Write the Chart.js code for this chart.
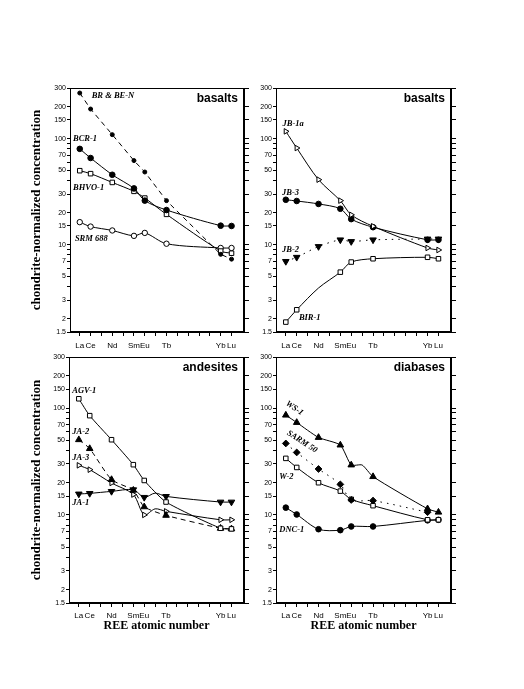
<!DOCTYPE html>
<html><head><meta charset="utf-8">
<script src="https://cdn.jsdelivr.net/npm/chart.js@4.4.1/dist/chart.umd.min.js"></script>
<style>
html,body{margin:0;padding:0;background:#fff;}
body{width:524px;height:689px;position:relative;overflow:hidden;}
canvas{position:absolute;}
</style></head><body>
<canvas id="tl" width="262" height="300" style="left:0px;top:60px;width:262px;height:300px"></canvas>
<canvas id="tr" width="284" height="300" style="left:240px;top:60px;width:284px;height:300px"></canvas>
<canvas id="bl" width="262" height="349" style="left:0px;top:340px;width:262px;height:349px"></canvas>
<canvas id="br" width="284" height="349" style="left:240px;top:340px;width:284px;height:349px"></canvas>
<script>
// ---- categories (REE, atomic number) ----
const elements      = ['La','Ce','Nd','Sm','Eu','Gd','Tb','Yb','Lu'];
const atomicNumbers = [57, 58, 60, 62, 63, 64, 65, 70, 71];
const labeledNumbers = [57, 58, 60, 62, 63, 65, 70, 71];
const xTickValues = [57,58,59,60,61,62,63,64,65,66,67,68,69,70,71];
const yTickValues = [1.5,2,3,4,5,6,7,8,9,10,15,20,30,40,50,60,70,80,90,100,150,200,300];
const yTickLabels = ['1.5','2','3','5','7','10','15','20','30','50','70','100','150','200','300'];

// ---- basalts (left) ----
const brBeN  = [269, 190, 109, 62, 48.4, null, 26, 8.1, 7.3];
const bcr1   = [80, 65.6, 45.6, 33.9, 26, null, 21.2, 15.1, 15.0];
const bhvo1  = [49.8, 46.7, 38.6, 31.8, 27.5, null, 19.3, 8.7, 8.3];
const srm688 = [16.3, 14.8, 13.6, 12.1, 12.9, null, 10.2, 9.3, 9.3];
// ---- basalts (right) ----
const jb1a = [117, 81.5, 41, 26, 19.1, null, 14.9, 9.3, 8.9];
const jb3  = [26.5, 25.8, 24.2, 21.8, 17.4, null, 14.6, 11.1, 11.1];
const jb2  = [6.95, 7.6, 9.6, 11.1, 10.7, null, 11.1, 11.3, 11.3];
const bir1 = [1.86, 2.43, 3.9, 5.5, 6.85, null, 7.36, 7.6, 7.36];
// ---- andesites ----
const agv1 = [122, 84.8, 50.5, 29.5, 21, null, 13.2, 7.5, 7.4];
const ja2  = [50.5, 41.7, 21.4, 17, 11.9, null, 9.9, 7.5, 7.4];
const ja3  = [29.1, 26.5, 19.9, 15.5, 10, 11.4, 10.8, 9.0, 9.0];
const ja1  = [15.7, 15.9, 16.6, 17.2, 14.6, 16, 14.9, 13.2, 13.2];
// ---- diabases ----
const ws1    = [85.7, 73.2, 53, 45, 29.3, 29.3, 22.8, 11.4, 10.6];
const sarm50 = [46.6, 38.4, 26.9, 19.3, 13.8, null, 13.6, 10.6, null];
const w2     = [33.8, 27.8, 20, 16.7, 14, null, 12.2, 9.0, 9.0];
const dnc1   = [11.7, 10.1, 7.35, 7.2, 7.8, null, 7.8, 8.9, 9.0];

// ---- styles ----
const ST = {
  filledCircle: {pointStyle:'circle', r:2.8, bg:'#000'},
  smallDot:     {pointStyle:'circle', r:2, bg:'#000'},
  openCircle:   {pointStyle:'circle', r:2.7, bg:'#fff'},
  openSquare:   {pointStyle:'rect', r:3.2, bg:'#fff'},
  filledUp:     {pointStyle:'triangle', r:3.8, bg:'#000', rot:0},
  filledDown:   {pointStyle:'triangle', r:3.8, bg:'#000', rot:180},
  openRight:    {pointStyle:'triangle', r:3.2, bg:'#fff', rot:90},
  filledDiamond:{pointStyle:'rectRot', r:3.4, bg:'#000'}
};
const DASH = [5,4], DOT = [1.5,5];

// hidden: atomic numbers whose point is drawn without a marker
function series(label, values, st, dash, tension, hidden) {
  const hide = hidden || [64];
  return {
    label,
    data: atomicNumbers.map((x,i)=>({x, y: values[i]})).filter(p=>p.y!==null),
    borderColor:'#000', borderWidth:1, borderDash: dash || [],
    pointStyle: st.pointStyle, pointRotation: st.rot || 0,
    pointRadius: c => (c.raw && hide.includes(c.raw.x)) ? 0 : st.r,
    pointBackgroundColor: st.bg, pointBorderColor:'#000', pointBorderWidth:1,
    tension: (tension === undefined || tension === null) ? 0.3 : tension, spanGaps:true, fill:false
  };
}

const annot = {
  id:'annot',
  afterDatasetsDraw(chart, args, opts) {
    const {ctx, chartArea:a, scales:{x, y}} = chart;
    ctx.save();
    ctx.strokeStyle = '#000'; ctx.lineWidth = 1;
    ctx.strokeRect(Math.round(a.left)+0.5, Math.round(a.top)+0.5, Math.round(a.right-a.left)-1, Math.round(a.bottom-a.top)-1);
    ctx.fillStyle = '#000';
    ctx.font = 'bold 12px "Liberation Sans", Arial, sans-serif';
    ctx.textAlign = 'right'; ctx.textBaseline = 'middle';
    ctx.fillText(opts.title, a.right - 6, a.top + 11);
    ctx.font = 'italic bold 8.5px "Liberation Serif", "Times New Roman", serif';
    for (const l of opts.labels) {
      const px = x.getPixelForValue(l.x), py = y.getPixelForValue(l.y);
      ctx.save();
      ctx.translate(px, py);
      if (l.rot) ctx.rotate(l.rot * Math.PI / 180);
      ctx.textAlign = l.align || 'left';
      ctx.fillText(l.text, 0, 0);
      ctx.restore();
    }
    ctx.restore();
  }
};

function makePanel(id, p) {
  const yAxis = {
    type:'logarithmic', position:'left', min:1.5, max:300,
    afterBuildTicks: s => { s.ticks = yTickValues.map(v=>({value:v})); },
    afterFit: s => { s.width = p.yW; },
    ticks:{autoSkip:false, padding:1, color:'#000', font:{size:7, family:'"Liberation Sans", Arial'},
      callback: v => yTickLabels.includes(String(v)) ? String(v) : ''},
    grid:{drawOnChartArea:false, drawTicks:true, tickLength:3, color:'#000'},
    border:{display:true, color:'#000', width:1},
    title: p.yTitle ? {display:true, text:'chondrite-normalized concentration', color:'#000',
      font:{size:13, weight:'bold', family:'"Liberation Serif", "Times New Roman", serif'},
      padding:{top:29, bottom:0}} : {display:false}
  };
  const y2Axis = {
    type:'logarithmic', position:'right', min:1.5, max:300,
    afterBuildTicks: s => { s.ticks = yTickValues.map(v=>({value:v})); },
    afterFit: s => { s.width = 6; },
    ticks:{display:false, autoSkip:false},
    grid:{drawOnChartArea:false, drawTicks:true, tickLength:5, color:'#000'},
    border:{display:true, color:'#000', width:1}
  };
  const xAxis = {
    type:'linear', position:'bottom', min:56.1, max:72.15,
    afterBuildTicks: s => { s.ticks = xTickValues.map(v=>({value:v})); },
    afterFit: s => { s.height = p.xH; },
    ticks:{autoSkip:false, maxRotation:0, minRotation:0, padding:p.xPad, color:'#000',
      font:{size:8, family:'"Liberation Sans", Arial'},
      callback: v => labeledNumbers.includes(v) ? elements[atomicNumbers.indexOf(v)] : ''},
    grid:{drawOnChartArea:false, drawTicks:true, tickLength:4, color:'#000'},
    border:{display:true, color:'#000', width:1},
    title: p.xTitle ? {display:true, text:'REE atomic number', color:'#000',
      font:{size:12, weight:'bold', family:'"Liberation Serif", "Times New Roman", serif'},
      padding:{top:0, bottom:5}} : {display:false}
  };
  return new Chart(document.getElementById(id), {
    type:'line',
    data:{datasets:p.datasets},
    options:{
      responsive:false, animation:false, devicePixelRatio:1,
      layout:{padding:p.pad},
      scales:{x:xAxis, y:yAxis, y2:y2Axis},
      plugins:{legend:{display:false}, tooltip:{enabled:false}, annot:{title:p.title, labels:p.labels}}
    },
    plugins:[annot]
  });
}

makePanel('tl', {
  yW:70, xH:28, xPad:5, yTitle:true, xTitle:false,
  pad:{left:0, right:12, top:28, bottom:0},
  title:'basalts',
  datasets:[
    series('BR & BE-N', brBeN, ST.smallDot, DASH, 0),
    series('BCR-1', bcr1, ST.filledCircle),
    series('BHVO-1', bhvo1, ST.openSquare),
    series('SRM 688', srm688, ST.openCircle)
  ],
  labels:[
    {text:'BR & BE-N', x:58.1, y:254},
    {text:'BCR-1', x:56.38, y:100},
    {text:'BHVO-1', x:56.38, y:34.4},
    {text:'SRM 688', x:56.55, y:11.4}
  ]
});

makePanel('tr', {
  yW:36, xH:28, xPad:5, yTitle:false, xTitle:false,
  pad:{left:0, right:67, top:28, bottom:0},
  title:'basalts',
  datasets:[
    series('JB-1a', jb1a, ST.openRight),
    series('JB-3', jb3, ST.filledCircle),
    series('JB-2', jb2, ST.filledDown, DOT),
    series('BIR-1', bir1, ST.openSquare, null, 0.3, [60, 64])
  ],
  labels:[
    {text:'JB-1a', x:56.7, y:138},
    {text:'JB-3', x:56.65, y:30.8},
    {text:'JB-2', x:56.65, y:8.9},
    {text:'BIR-1', x:58.2, y:2.04}
  ]
});

makePanel('bl', {
  yW:69, xH:35, xPad:4, yTitle:true, xTitle:true,
  pad:{left:0, right:12, top:17, bottom:51},
  title:'andesites',
  datasets:[
    series('AGV-1', agv1, ST.openSquare, null, 0.2),
    series('JA-2', ja2, ST.filledUp, DASH, 0.2),
    series('JA-3', ja3, ST.openRight),
    series('JA-1', ja1, ST.filledDown)
  ],
  labels:[
    {text:'AGV-1', x:56.4, y:146},
    {text:'JA-2', x:56.4, y:60.4},
    {text:'JA-3', x:56.4, y:34},
    {text:'JA-1', x:56.4, y:12.9}
  ]
});

makePanel('br', {
  yW:36, xH:35, xPad:4, yTitle:false, xTitle:true,
  pad:{left:0, right:67, top:17, bottom:51},
  title:'diabases',
  datasets:[
    series('WS-1', ws1, ST.filledUp, null, 0.2),
    series('SARM 50', sarm50, ST.filledDiamond, DOT),
    series('W-2', w2, ST.openSquare),
    series('DNC-1', dnc1, ST.filledCircle)
  ],
  labels:[
    {text:'WS-1', x:57.8, y:99.6, rot:35, align:'center'},
    {text:'SARM 50', x:58.5, y:48.5, rot:33, align:'center'},
    {text:'W-2', x:56.4, y:22.7},
    {text:'DNC-1', x:56.4, y:7.25}
  ]
});
</script>
</body></html>
